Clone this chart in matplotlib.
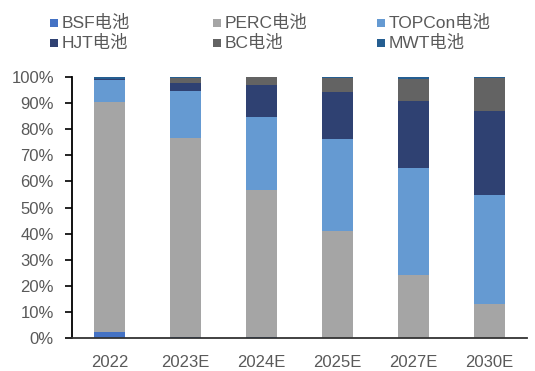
import matplotlib
matplotlib.use("Agg")
import matplotlib.pyplot as plt
from matplotlib.patches import Rectangle
import numpy as np

plt.rcParams['font.family'] = ['Liberation Sans', 'Noto Sans CJK SC', 'DejaVu Sans']

categories = ["2022", "2023E", "2024E", "2025E", "2027E", "2030E"]
series_names = ["BSF电池", "PERC电池", "TOPCon电池", "HJT电池", "BC电池", "MWT电池"]
bsf = [2.4, 0.5, 0.5, 0.0, 0.0, 0.0]
perc = [88.0, 76.1, 56.3, 41.0, 24.1, 13.0]
topcon = [8.4, 18.1, 28.0, 35.4, 40.9, 41.9]
hjt = [0.6, 3.1, 12.0, 18.0, 25.8, 32.2]
bc = [0.0, 2.0, 3.1, 5.3, 8.4, 12.5]
mwt = [0.6, 0.2, 0.1, 0.3, 0.8, 0.4]
colors = ["#4472C4", "#A5A5A5", "#659AD2", "#2F4172", "#636363", "#255E91"]

data = [bsf, perc, topcon, hjt, bc, mwt]
W, H = 535, 371
text_color = "#595959"

fig = plt.figure(figsize=(W / 100, H / 100), dpi=100)
ax = fig.add_axes([72 / W, 33 / H, 455 / W, 261 / H])

x = np.arange(len(categories))
bottom = np.zeros(len(categories))
for vals, name, c in zip(data, series_names, colors):
    ax.bar(x, vals, 0.41, bottom=bottom, color=c, label=name)
    bottom += np.array(vals)

ax.set_xlim(-0.5, len(categories) - 0.5)
ax.set_ylim(0, 100)
ax.set_yticks(np.arange(0, 101, 10))
ax.set_yticklabels([f"{v}%" for v in range(0, 101, 10)], fontsize=12, color=text_color)
ax.set_xticks(x)
ax.set_xticklabels(categories, fontsize=12, color=text_color)
ax.tick_params(axis='x', length=0, pad=12.5)
ax.tick_params(axis='y', direction='out', length=5, width=1.2, color='black', pad=8)
for s in ['top', 'right']:
    ax.spines[s].set_visible(False)
ax.spines['left'].set_color('black')
ax.spines['left'].set_linewidth(1.3)
ax.spines['bottom'].set_color('#333333')
ax.spines['bottom'].set_linewidth(1.3)

# legend (2 rows x 3 columns)
col_x = [50, 213, 377]
row_y = [23, 43]
for i, (name, c) in enumerate(zip(series_names, colors)):
    r, k = divmod(i, 3)
    px, py = col_x[k], row_y[r]
    fig.add_artist(Rectangle((px / W, 1 - (py + 3.5) / H), 7.5 / W, 7.5 / H,
                             transform=fig.transFigure, color=c, lw=0))
    fig.text((px + 12) / W, 1 - py / H, name, fontsize=12.5, color=text_color,
             va='center', ha='left')

fig.savefig("out.png", dpi=100)
